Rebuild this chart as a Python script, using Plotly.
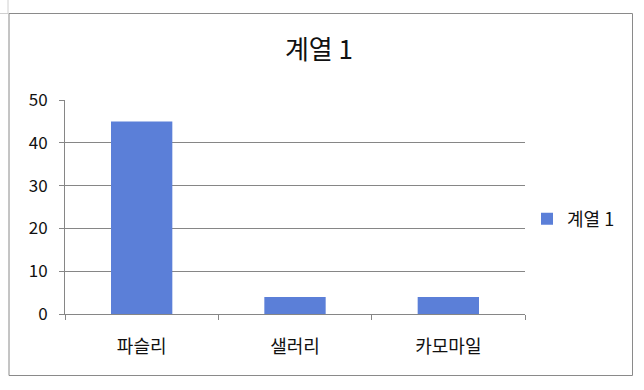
import plotly.graph_objects as go

categories = ["파슬리", "샐러리", "카모마일"]
values = [45, 4, 4]
series_name = "계열 1"
y_ticks = [0, 10, 20, 30, 40, 50]

FONT = "Noto Sans CJK KR, Malgun Gothic, sans-serif"
GRID = "#868686"

fig = go.Figure()
fig.add_trace(go.Bar(
    x=categories, y=values, name=series_name,
    marker=dict(color="#5B7FD8", line=dict(width=0)),
    width=0.4, showlegend=True,
))

L, R, T, B = 65, 525, 100, 314
W, H = 644, 390

def px_x(p):
    return (p - L) / (R - L)

def px_y(p):
    return (B - p) / (B - T)

fig.update_layout(
    width=W, height=H,
    margin=dict(l=L, r=W - R, t=T, b=H - B, pad=0),
    paper_bgcolor="white", plot_bgcolor="white",
    font=dict(family=FONT, color="#000000", size=15),
    title=dict(text=series_name, x=px_x(319), xanchor="center", xref="paper",
               y=1 - 50 / H, yanchor="middle", font=dict(size=26, family=FONT, color="#111")),
    showlegend=True,
    legend=dict(x=px_x(527), y=px_y(219), xanchor="left", yanchor="middle",
                font=dict(size=18, family=FONT, color="#111"), bgcolor="rgba(0,0,0,0)",
                itemwidth=30, tracegroupgap=0),
    bargap=0.6,
    xaxis=dict(
        type="category", showline=True, linecolor=GRID, linewidth=1,
        ticks="outside", tickson="boundaries", ticklen=5, tickcolor=GRID,
        showgrid=False, ticklabelstandoff=16,
        tickfont=dict(size=18, family=FONT, color="#111"),
        range=[-0.5, 2.5], fixedrange=True,
    ),
    yaxis=dict(
        range=[0, 50], tickvals=y_ticks, showgrid=True, gridcolor=GRID, gridwidth=1,
        showline=True, linecolor=GRID, linewidth=1, ticks="outside", ticklen=5,
        tickcolor=GRID, zeroline=False, ticklabelstandoff=8,
        tickfont=dict(size=17, family=FONT, color="#111"),
    ),
    shapes=[
        dict(type="rect", xref="paper", yref="paper",
             x0=px_x(9), x1=px_x(632.5), y0=px_y(375.5), y1=px_y(13.5),
             line=dict(color="#8a8a8a", width=1), fillcolor="rgba(0,0,0,0)", layer="below"),
        dict(type="line", xref="paper", yref="paper",
             x0=px_x(0), x1=px_x(9), y0=px_y(13.5), y1=px_y(13.5),
             line=dict(color="#d0d0d0", width=1)),
        dict(type="line", xref="paper", yref="paper",
             x0=px_x(8), x1=px_x(8), y0=px_y(0), y1=px_y(13.5),
             line=dict(color="#d0d0d0", width=1)),
    ],
)

fig.write_html("out.html")
